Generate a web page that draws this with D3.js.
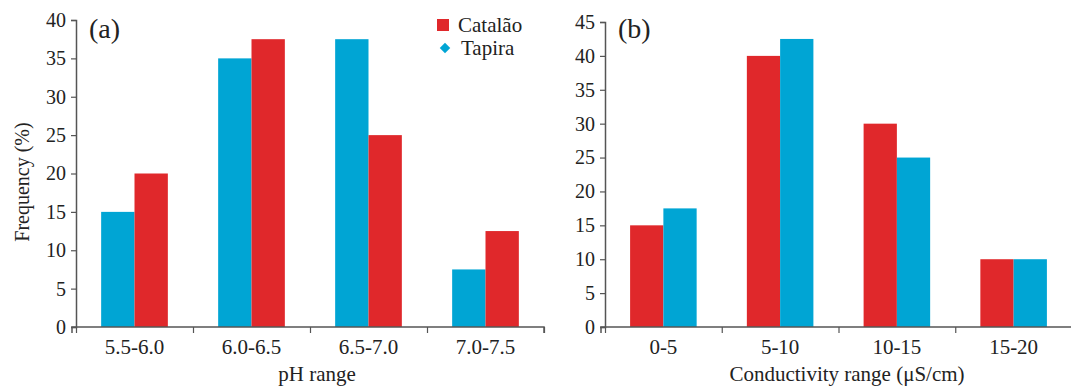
<!DOCTYPE html>
<html>
<head>
<meta charset="utf-8">
<script src="https://cdn.jsdelivr.net/npm/d3@7"></script>
<style>
  body { margin: 0; background: #fff; }
  svg text { font-family: "Liberation Serif", "Times New Roman", serif; fill: #222; }
</style>
</head>
<body>
<svg id="chart" width="1071" height="390"></svg>
<script>
// panel (a) - pH
const phRanges = ["5.5-6.0", "6.0-6.5", "6.5-7.0", "7.0-7.5"];
const phTapira = [15, 35, 37.5, 7.5];
const phCatalao = [20, 37.5, 25, 12.5];

// panel (b) - conductivity
const condRanges = ["0-5", "5-10", "10-15", "15-20"];
const condCatalao = [15, 40, 30, 10];
const condTapira = [17.5, 42.5, 25, 10];

const RED = "#e0282b";
const BLUE = "#00a5d4";
const AXIS = "#555";

const svg = d3.select("#chart");

function drawPanel(opts) {
  const g = svg.append("g");

  const x = d3.scaleBand()
    .domain(opts.cats)
    .range([opts.left, opts.right])
    .paddingInner(0.43)
    .paddingOuter(0.215);

  const xs = d3.scaleBand()
    .domain(opts.series.map(s => s.name))
    .range([0, x.bandwidth()]);

  const y = d3.scaleLinear().domain([0, opts.ymax]).range([opts.bottom, opts.top]);

  // bars
  opts.series.forEach(s => {
    g.append("g")
      .selectAll("rect")
      .data(opts.cats)
      .enter()
      .append("rect")
      .attr("x", (c) => x(c) + xs(s.name))
      .attr("y", (c, i) => y(s.values[i]))
      .attr("width", xs.bandwidth())
      .attr("height", (c, i) => y(0) - y(s.values[i]))
      .attr("fill", s.color);
  });

  // y axis
  const yAxis = g.append("g")
    .attr("transform", "translate(" + opts.left + ",0)")
    .call(d3.axisLeft(y).tickValues(d3.range(0, opts.ymax + 1, 5)).tickSize(5).tickPadding(5));
  yAxis.select(".domain").attr("stroke", AXIS).attr("stroke-width", 1.5);
  yAxis.selectAll(".tick line").attr("stroke", AXIS).attr("stroke-width", 1.2);
  yAxis.selectAll(".tick text").style("font-size", "20px").attr("fill", "#222");

  // x axis: boundary ticks from a linear index scale
  const xb = d3.scaleLinear().domain([0, opts.cats.length]).range([opts.left, opts.right]);
  const xAxis = g.append("g")
    .attr("transform", "translate(0," + opts.bottom + ")")
    .call(d3.axisBottom(xb).ticks(opts.cats.length).tickSize(6).tickSizeOuter(6).tickFormat(""));
  xAxis.select(".domain").attr("stroke", AXIS).attr("stroke-width", 1.5)
    .attr("d", "M" + (opts.left - 4) + ",6V0H" + opts.right + "V6");
  xAxis.selectAll(".tick line").attr("stroke", AXIS).attr("stroke-width", 1.2);

  // category labels
  g.append("g")
    .selectAll("text")
    .data(opts.cats)
    .enter()
    .append("text")
    .attr("x", (c) => x(c) + x.bandwidth() / 2)
    .attr("y", opts.bottom + 27)
    .attr("text-anchor", "middle")
    .style("font-size", "21px")
    .text((c) => c);

  // axis title
  g.append("text")
    .attr("x", opts.titleX)
    .attr("y", 381)
    .attr("text-anchor", "middle")
    .style("font-size", "21px")
    .text(opts.xTitle);

  // panel letter
  g.append("text")
    .attr("x", opts.left + 13)
    .attr("y", 38)
    .style("font-size", "28px")
    .text(opts.letter);

  return g;
}

drawPanel({
  cats: phRanges,
  series: [
    { name: "Tapira", values: phTapira, color: BLUE },
    { name: "Catalão", values: phCatalao, color: RED }
  ],
  left: 76, right: 544, top: 20, bottom: 327, ymax: 40,
  xTitle: "pH range", titleX: 317, letter: "(a)"
});

drawPanel({
  cats: condRanges,
  series: [
    { name: "Catalão", values: condCatalao, color: RED },
    { name: "Tapira", values: condTapira, color: BLUE }
  ],
  left: 605, right: 1072, top: 22, bottom: 327, ymax: 45,
  xTitle: "Conductivity range (μS/cm)", titleX: 847, letter: "(b)"
});

// y title (only on panel a)
svg.append("text")
  .attr("transform", "translate(29,182) rotate(-90)")
  .attr("text-anchor", "middle")
  .style("font-size", "20px")
  .text("Frequency (%)");

// legend
const legend = svg.append("g").attr("transform", "translate(437,0)");
legend.append("rect").attr("x", 0).attr("y", 19).attr("width", 12).attr("height", 12).attr("fill", RED);
legend.append("text").attr("x", 21).attr("y", 32).style("font-size", "21px").text("Catalão");
legend.append("path")
  .attr("d", d3.symbol().type(d3.symbolDiamond2).size(70)())
  .attr("transform", "translate(8,48)")
  .attr("fill", BLUE);
legend.append("text").attr("x", 24).attr("y", 55).style("font-size", "21px").text("Tapira");
</script>
</body>
</html>
